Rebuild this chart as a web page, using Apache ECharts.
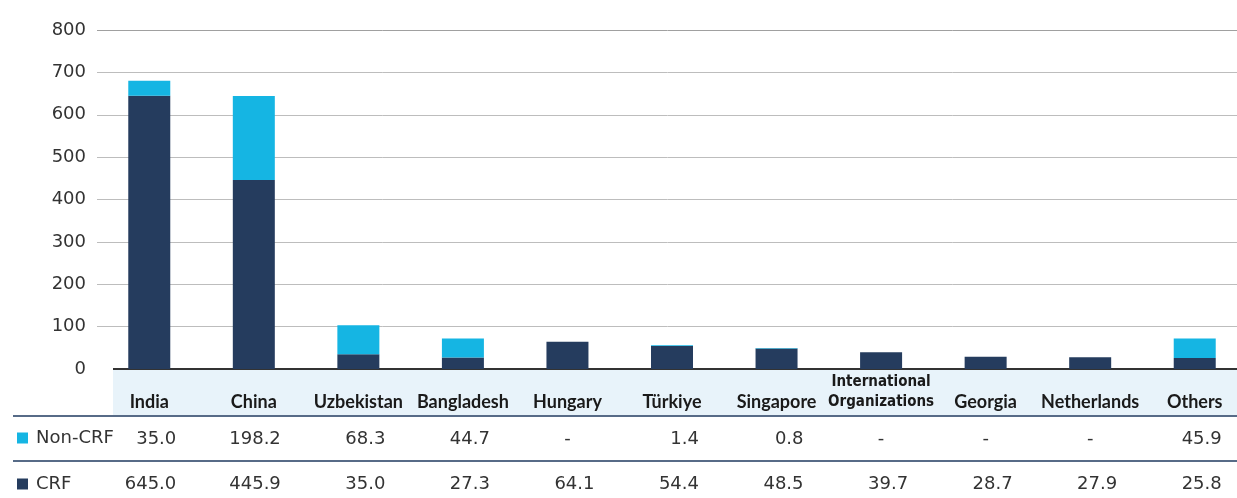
<!DOCTYPE html>
<html>
<head>
<meta charset="utf-8">
<script src="https://cdn.jsdelivr.net/npm/echarts@6/dist/echarts.min.js"></script>
<style>
  html, body { margin: 0; padding: 0; background: #fff; }
  #chart { width: 1237px; height: 498px; }
</style>
</head>
<body>
<div id="chart"></div>
<script>
var categories = ['India', 'China', 'Uzbekistan', 'Bangladesh', 'Hungary', 'Türkiye',
  'Singapore', 'International\nOrganizations', 'Georgia', 'Netherlands', 'Others']
// null = "-" in the table
var nonCrf = [35.0, 198.2, 68.3, 44.7, null, 1.4, 0.8, null, null, null, 45.9]
var crf = [645.0, 445.9, 35.0, 27.3, 64.1, 54.4, 48.5, 39.7, 28.7, 27.9, 25.8]
var yTicks = { min: 0, max: 800, interval: 100 }

var NAVY = '#253c5e'
var CYAN = '#15b5e3'
var numFont = '"DejaVu Sans", sans-serif'

function cell (v) {
  return v == null ? '{d|-}' : '{n|' + v.toFixed(1) + '}'
}
var cellRich = {
  n: { width: 54, align: 'right', fontSize: 18, fontFamily: numFont, color: '#333' },
  d: { width: 54, align: 'center', fontSize: 18, fontFamily: numFont, color: '#333' }
}

function tableAxis (values, offset) {
  return {
    type: 'category',
    data: categories,
    position: 'bottom',
    offset: offset,
    axisLine: { show: false },
    axisTick: { show: false },
    axisLabel: {
      interval: 0,
      margin: 0,
      verticalAlign: 'middle',
      formatter: function (val, i) { return cell(values[i]) },
      rich: cellRich
    }
  }
}

var chart = echarts.init(document.getElementById('chart'))
chart.setOption({
  animation: false,
  // plot runs a little past the right edge of the canvas, as in the source
  grid: { left: 97, width: 1150, top: 30, bottom: 129, containLabel: false, outerBoundsMode: 'none' },
  legend: {
    orient: 'vertical',
    left: 17,
    top: 429,
    padding: 0,
    itemWidth: 11,
    itemHeight: 11,
    itemGap: 28,
    icon: 'rect',
    data: ['Non-CRF', 'CRF'],
    textStyle: { fontSize: 18, fontFamily: numFont, color: '#333', padding: [0, 0, 0, 3] }
  },
  xAxis: [{
    type: 'category',
    data: categories,
    axisLine: { show: false },
    axisTick: { show: false },
    axisLabel: {
      interval: 0,
      margin: 43,
      verticalAlign: 'bottom',
      fontFamily: 'Lato, sans-serif',
      fontWeight: 'bold',
      fontSize: 18,
      lineHeight: 20,
      color: '#1a1a1a',
      formatter: function (val) {
        return val.indexOf('\n') >= 0
          ? val.split('\n').map(function (s) { return '{s|' + s + '}' }).join('\n')
          : val
      },
      rich: {
        s: {
          fontFamily: '"Liberation Sans Narrow", "DejaVu Sans Condensed", sans-serif',
          fontWeight: 'bold', fontSize: 15, lineHeight: 20, color: '#1a1a1a'
        }
      }
    }
  }, tableAxis(nonCrf, 70), tableAxis(crf, 115)],
  yAxis: {
    type: 'value',
    min: yTicks.min,
    max: yTicks.max,
    interval: yTicks.interval,
    axisLine: { show: false },
    axisTick: { show: false },
    axisLabel: { margin: 11, fontSize: 18, fontFamily: numFont, color: '#333' },
    splitLine: { lineStyle: { color: ['transparent', '#bdbdbd', '#bdbdbd', '#bdbdbd', '#bdbdbd', '#bdbdbd', '#bdbdbd', '#bdbdbd', '#a0a0a0'], width: 1 } }
  },
  graphic: [
    { type: 'rect', shape: { x: 113, y: 370, width: 1124, height: 45 }, style: { fill: '#e8f3fa' }, z: -1 },
    { type: 'line', shape: { x1: 113, y1: 369, x2: 1237, y2: 369 }, style: { stroke: '#333', lineWidth: 2 } },
    { type: 'line', shape: { x1: 13, y1: 416, x2: 1237, y2: 416 }, style: { stroke: '#1f3a5f', lineWidth: 1.5 } },
    { type: 'line', shape: { x1: 13, y1: 461, x2: 1237, y2: 461 }, style: { stroke: '#1f3a5f', lineWidth: 1.5 } }
  ],
  series: [{
    name: 'CRF',
    type: 'bar',
    stack: 'total',
    barWidth: 42,
    itemStyle: { color: NAVY },
    data: crf
  }, {
    name: 'Non-CRF',
    type: 'bar',
    stack: 'total',
    barWidth: 42,
    itemStyle: { color: CYAN },
    data: nonCrf.map(function (v) { return v == null ? 0 : v })
  }]
})
</script>
</body>
</html>
